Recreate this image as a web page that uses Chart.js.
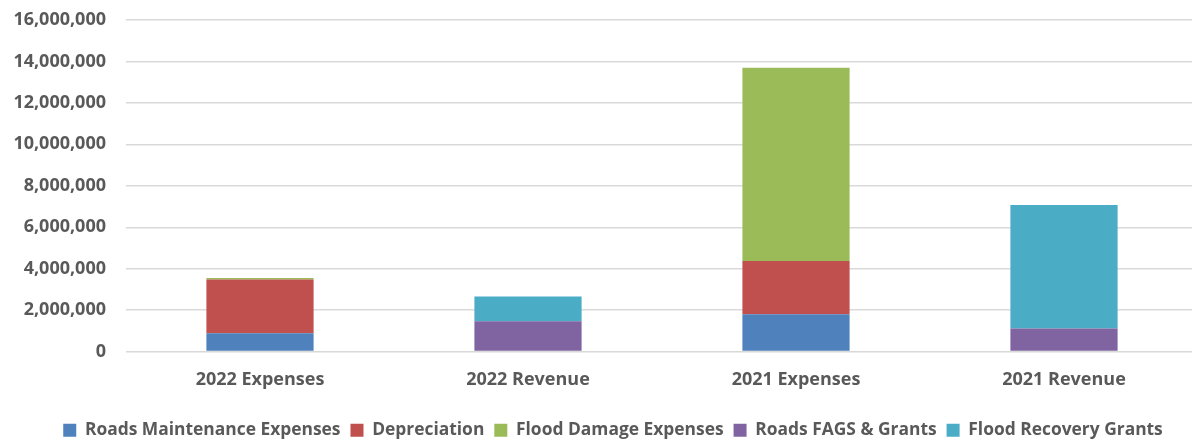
<!DOCTYPE html>
<html>
<head>
<meta charset="utf-8">
<script src="https://cdn.jsdelivr.net/npm/chart.js@4.4.1/dist/chart.umd.min.js"></script>
<style>
  html, body { margin: 0; padding: 0; background: #ffffff; overflow: hidden; }
  #wrap { position: relative; width: 1200px; height: 439px; }
</style>
</head>
<body>
<div id="wrap"><canvas id="chart"></canvas></div>
<script>
// Categories along the x axis
const categories = ['2022 Expenses', '2022 Revenue', '2021 Expenses', '2021 Revenue'];

// Stacked series values
const roadsMaintenance = [880000, 0, 1800000, 0];
const depreciation = [2600000, 0, 2570000, 0];
const floodDamage = [70000, 0, 9320000, 0];
const roadsFags = [0, 1470000, 0, 1110000];
const floodRecovery = [0, 1190000, 0, 5960000];

// Y axis tick range
const yMin = 0;
const yMax = 16000000;
const yStep = 2000000;

const textColor = '#595959';
const fontFamily = '"Open Sans", sans-serif';
const labelFont = { family: fontFamily, size: 18, weight: 'bold' };
const legendFont = { family: fontFamily, size: 17.4, weight: 'bold' };

// Nudges the bottom legend down and to the right of the canvas centre
const legendOffset = {
  id: 'legendOffset',
  beforeDraw(chart) {
    const lg = chart.legend;
    if (!lg || lg._shifted) return;
    lg.top += 10; lg.bottom += 10;
    lg.left += 14; lg.right += 14;
    lg._shifted = true;
  },
  afterUpdate(chart) {
    if (chart.legend) chart.legend._shifted = false;
  }
};

new Chart(document.getElementById('chart'), {
  type: 'bar',
  data: {
    labels: categories,
    datasets: [
      { label: 'Roads Maintenance Expenses', data: roadsMaintenance, backgroundColor: '#4F81BD' },
      { label: 'Depreciation', data: depreciation, backgroundColor: '#C0504D' },
      { label: 'Flood Damage Expenses', data: floodDamage, backgroundColor: '#9BBB59' },
      { label: 'Roads FAGS & Grants', data: roadsFags, backgroundColor: '#8064A2' },
      { label: 'Flood Recovery Grants', data: floodRecovery, backgroundColor: '#4BACC6' }
    ]
  },
  plugins: [legendOffset],
  options: {
    responsive: true,
    maintainAspectRatio: false,
    animation: false,
    devicePixelRatio: 1,
    layout: { padding: { top: 20, right: 2, bottom: 0, left: 0 } },
    datasets: {
      bar: { barPercentage: 0.4, categoryPercentage: 1.0, borderWidth: 0 }
    },
    scales: {
      x: {
        stacked: true,
        grid: { display: false, drawTicks: false },
        border: { display: false },
        ticks: { color: textColor, padding: 17, font: labelFont },
        afterFit: (scale) => { scale.height = 50; }
      },
      y: {
        stacked: true,
        min: yMin,
        max: yMax,
        grid: { color: '#d9d9d9', lineWidth: 1.5, drawTicks: false },
        border: { display: false },
        ticks: {
          stepSize: yStep,
          color: textColor,
          padding: 20,
          font: labelFont,
          callback: (v) => v.toLocaleString('en-US')
        },
        afterFit: (scale) => { scale.width = 126; scale.paddingTop = 0; }
      }
    },
    plugins: {
      tooltip: { enabled: false },
      legend: {
        position: 'bottom',
        labels: {
          color: textColor,
          boxWidth: 13,
          boxHeight: 13,
          padding: 10,
          font: legendFont
        }
      }
    }
  }
});
</script>
</body>
</html>
